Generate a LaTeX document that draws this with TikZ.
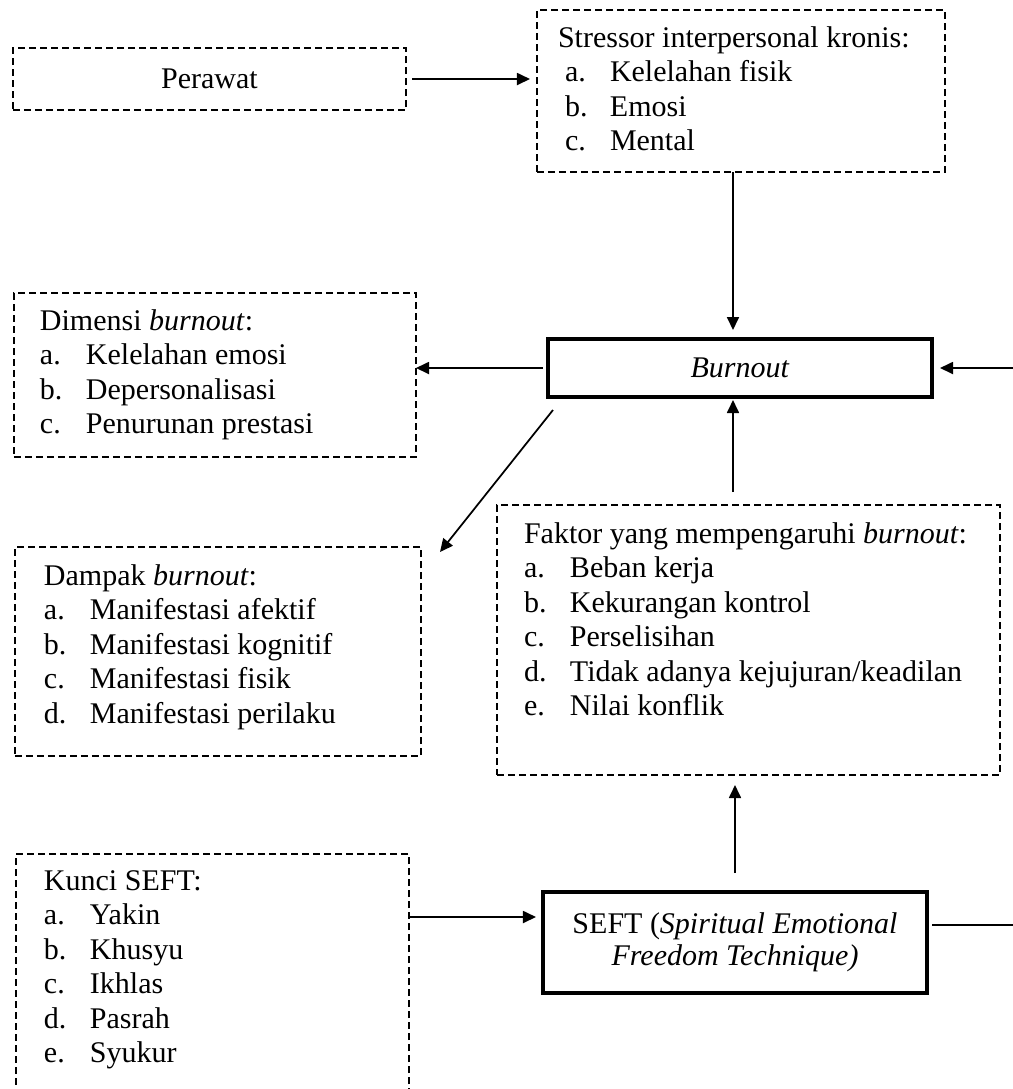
\documentclass[tikz,border=0pt]{standalone}
\usepackage{fontspec}
\setmainfont{Liberation Serif}
\usetikzlibrary{arrows.meta}
\newcommand\itemlab[1]{\makebox[18.4pt][l]{#1}}
\newcommand\sitemlab[1]{\hspace*{2.8pt}\makebox[18pt][l]{#1}}
\tikzset{
  basefont/.style={font=\fontsize{12}{13.8}\selectfont},
  dbox/.style={draw, line width=0.6pt, dash pattern=on 2.8pt off 1.6pt, inner sep=0pt, outer sep=0pt, basefont},
  tbox/.style={draw, line width=1.5pt, inner sep=0pt, outer sep=0pt, basefont},
  txt/.style={inner sep=0pt, outer sep=0pt, anchor=base west, basefont},
  arr/.style={draw, line width=0.7pt, -{Triangle[length=5.2pt,width=4.8pt]}}
}
\begin{document}
\begin{tikzpicture}[x=0.4pt,y=-0.4pt]
\useasboundingbox (0,0) rectangle (1013,1089);
\clip (0,0) rectangle (1013,1089);
% boxes
\node[dbox, minimum width=157.2pt, minimum height=24.8pt] (perawat) at (209.5,79) {Perawat};
\node[dbox, minimum width=163.2pt, minimum height=64.8pt] (stressor) at (741,91) {};
\node[dbox, minimum width=160.8pt, minimum height=65.6pt] (dimensi) at (215,375) {};
\node[tbox, minimum width=153.6pt, minimum height=23.2pt] (burnout) at (740,368) {\textit{Burnout}};
\node[dbox, minimum width=162.4pt, minimum height=83.6pt] (dampak) at (218,651.5) {};
\node[dbox, minimum width=201.2pt, minimum height=108pt] (faktor) at (748.5,640) {};
\node[dbox, minimum width=157.2pt, minimum height=106.4pt] (kunci) at (212.5,987) {};
\node[tbox, minimum width=153.6pt, minimum height=40.4pt, align=center, font=\fontsize{12}{12.8}\selectfont] (seft) at (735,942.5) {SEFT (\textit{Spiritual Emotional}\\\textit{Freedom Technique)}};
% texts
\node[txt] (stressortxt) at (558,47) {\begin{tabular}[t]{@{}l@{}}
Stressor interpersonal kronis:\\
\sitemlab{a.}Kelelahan fisik\\
\sitemlab{b.}Emosi\\
\sitemlab{c.}Mental
\end{tabular}};
\node[txt] (dimensitxt) at (40,330) {\begin{tabular}[t]{@{}l@{}}
Dimensi \textit{burnout}:\\
\itemlab{a.}Kelelahan emosi\\
\itemlab{b.}Depersonalisasi\\
\itemlab{c.}Penurunan prestasi
\end{tabular}};
\node[txt] (dampaktxt) at (44,585) {\begin{tabular}[t]{@{}l@{}}
Dampak \textit{burnout}:\\
\itemlab{a.}Manifestasi afektif\\
\itemlab{b.}Manifestasi kognitif\\
\itemlab{c.}Manifestasi fisik\\
\itemlab{d.}Manifestasi perilaku
\end{tabular}};
\node[txt] (faktortxt) at (524,543) {\begin{tabular}[t]{@{}l@{}}
Faktor yang mempengaruhi \textit{burnout}:\\
\itemlab{a.}Beban kerja\\
\itemlab{b.}Kekurangan kontrol\\
\itemlab{c.}Perselisihan\\
\itemlab{d.}Tidak adanya kejujuran/keadilan\\
\itemlab{e.}Nilai konflik
\end{tabular}};
\node[txt] (kuncitxt) at (44,890) {\begin{tabular}[t]{@{}l@{}}
Kunci SEFT:\\
\itemlab{a.}Yakin\\
\itemlab{b.}Khusyu\\
\itemlab{c.}Ikhlas\\
\itemlab{d.}Pasrah\\
\itemlab{e.}Syukur
\end{tabular}};
\coordinate (rightc) at (1040,0);
\coordinate (midx) at (733,0);
% connectors
\draw[arr, shorten <=2.4pt, shorten >=2.8pt] (perawat.east) -- (perawat.east -| stressor.west);
\draw[arr, shorten >=3.6pt] (stressor.south -| midx) -- (burnout.north -| midx);
\draw[arr, shorten <=2pt] (burnout.west) -- (burnout.west -| dimensi.east);
\draw[arr] ([xshift=2pt,yshift=-5.2pt]burnout.south west) -- ([xshift=7.6pt,yshift=-2pt]dampak.north east);
\draw[arr, shorten <=5.2pt, shorten >=1.2pt] (faktor.north -| midx) -- (burnout.south -| midx);
\draw[arr, shorten <=7.6pt, shorten >=4pt] (seft.north) -- (seft.north |- faktor.south);
\draw[arr, shorten >=2.8pt] ([yshift=10.2pt]seft.west -| kunci.east) -- ([yshift=10.2pt]seft.west);
\draw[arr, shorten >=3.2pt] ([xshift=2pt,yshift=7pt]seft.east) -- ([yshift=7pt]seft.east -| rightc) |- (burnout.east);
\end{tikzpicture}
\end{document}
